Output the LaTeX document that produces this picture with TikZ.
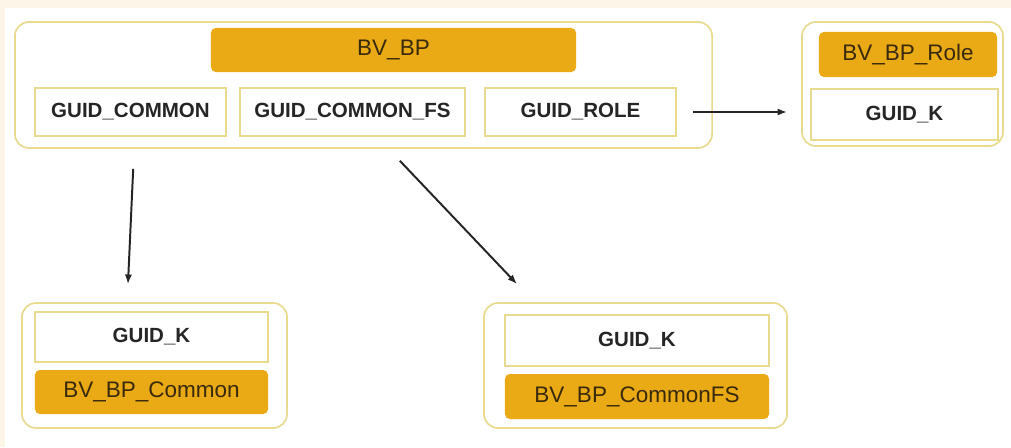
\documentclass[tikz,border=0pt]{standalone}
\usepackage{fontspec}
\setmainfont{Liberation Sans}
\usetikzlibrary{arrows.meta,positioning}
\definecolor{gold}{HTML}{E9AA16}
\definecolor{rim}{HTML}{E8DA8E}
\definecolor{cream}{HTML}{FDF5E7}
\definecolor{ink}{HTML}{252525}
\definecolor{brownink}{HTML}{3A2A0C}

\begin{document}
\begin{tikzpicture}[x=0.025cm,y=-0.025cm,font=\fontsize{16pt}{18pt}\selectfont,
frame/.style={draw=rim,line width=1.2pt,rounded corners=0.35cm,fill=white},
tag/.style={fill=gold,rounded corners=0.12cm,text=brownink,inner sep=0pt},
key/.style={draw=rim,line width=1.1pt,fill=white,text=ink,font=\fontsize{14.6pt}{16pt}\selectfont\bfseries,inner sep=0pt},
arr/.style={-{Latex[length=0.24cm,width=0.18cm]},color=ink,line width=1.4pt}]
\useasboundingbox (0,0) rectangle (1011,447);
\fill[cream] (0,0) rectangle (1011,447);
\fill[white] (5,8) rectangle (1011,447);
% top entity
\node[frame,minimum width=17.425cm,minimum height=3.15cm] (main) at (363.5,85) {};
\node[tag,minimum width=9.125cm,minimum height=1.1cm] (bvbp) at (393.5,50) {BV\_BP};
\node[key,minimum width=4.775cm,minimum height=1.2cm] (gcommon) at (130.5,112) {GUID\_COMMON};
\node[key,minimum width=5.625cm,minimum height=1.2cm] (gcommonfs) at (352.5,112) {GUID\_COMMON\_FS};
\node[key,minimum width=4.775cm,minimum height=1.2cm] (grole) at (580.5,112) {GUID\_ROLE};
% role
\node[frame,minimum width=5.025cm,minimum height=3.1cm] (rframe) at (902.5,84) {};
\node[tag,minimum width=4.45cm,minimum height=1.125cm] (role) at (908,54.5) {BV\_BP\_Role};
\node[key,minimum width=4.675cm,minimum height=1.275cm] (rkey) at (904.5,114.5) {GUID\_K};
% common
\node[frame,minimum width=6.625cm,minimum height=3.125cm] (cframe) at (154.5,365.5) {};
\node[key,minimum width=5.825cm,minimum height=1.25cm] (ckey) at (151.5,337) {GUID\_K};
\node[tag,minimum width=5.825cm,minimum height=1.1cm] (common) at (151.5,392) {BV\_BP\_Common};
% common fs
\node[frame,minimum width=7.575cm,minimum height=3.125cm] (fsframe) at (635.5,365.5) {};
\node[key,minimum width=6.6cm,minimum height=1.275cm] (fskey) at (637,340.5) {GUID\_K};
\node[tag,minimum width=6.6cm,minimum height=1.125cm] (commonfs) at (637,396.5) {BV\_BP\_CommonFS};
\draw[arr,shorten <=0.4cm,shorten >=0.35cm] (grole.east) -- (grole.east -| rframe.west);
\draw[arr,shorten <=0.5cm,shorten >=0.45cm] ([xshift=3cm]main.south west) -- ([xshift=2.65cm]cframe.north west);
\draw[arr,shorten <=0.41cm,shorten >=0.62cm] ([xshift=0.625cm]main.south) -- ([xshift=1.275cm]fsframe.north west);
\end{tikzpicture}
\end{document}
